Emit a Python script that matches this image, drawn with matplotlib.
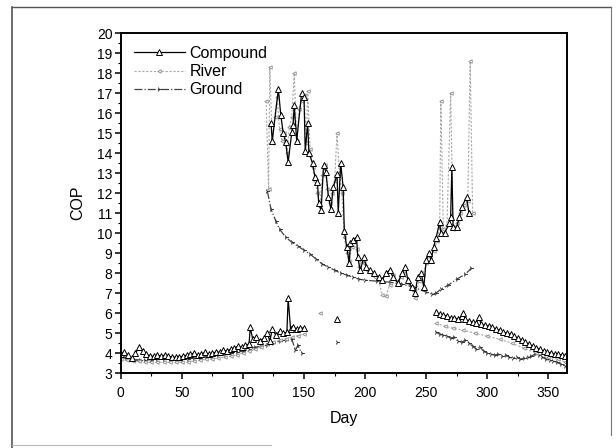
import numpy as np
import matplotlib
matplotlib.use("Agg")
import matplotlib.pyplot as plt
from matplotlib.lines import Line2D
from matplotlib.ticker import MultipleLocator

plt.rcParams['font.family'] = ['Liberation Sans', 'DejaVu Sans']

nan = np.nan

# ---- heating season, part 1 (days 0-150) + a few stray points ----
comp_heat1_days = [0, 3, 6, 9, 12, 15, 18, 21, 24, 27, 30, 33, 36, 39, 42, 45, 48, 51, 54, 57,
                   60, 63, 66, 69, 72, 75, 78, 81, 84, 87, 90, 93, 96, 99, 102, 105, 106, 108,
                   111, 114, 117, 120, 122, 124, 127, 130, 133, 136, 137, 139, 141, 144, 147, 150,
                   151, 177]
comp_heat1 = [3.95, 4.05, 3.9, 3.75, 4.0, 4.3, 4.1, 3.95, 3.85, 3.85, 3.9, 3.85, 3.9, 3.85, 3.8,
              3.8, 3.8, 3.85, 3.9, 3.95, 4.0, 3.9, 3.95, 4.05, 3.95, 4.0, 4.05, 4.05, 4.15, 4.1,
              4.2, 4.25, 4.35, 4.3, 4.4, 4.45, 5.3, 4.7, 4.8, 4.6, 4.75, 5.0, 4.6, 5.2, 4.9, 5.1,
              5.0, 5.05, 6.75, 5.2, 5.3, 5.2, 5.25, 5.25, nan, 5.7]

river_heat1_days = [0, 5, 10, 15, 20, 25, 30, 35, 40, 45, 50, 55, 60, 65, 70, 75, 80, 85, 90,
                    95, 100, 105, 110, 115, 120, 125, 130, 135, 140, 145, 150, 151, 163]
river_heat1 = [3.7, 3.65, 3.6, 3.6, 3.55, 3.55, 3.55, 3.55, 3.55, 3.55, 3.55, 3.58, 3.6, 3.65,
               3.7, 3.72, 3.75, 3.8, 3.85, 3.92, 4.0, 4.1, 4.2, 4.32, 4.45, 4.55, 4.65, 4.72,
               4.8, 4.88, 4.95, nan, 6.0]

ground_heat1_days = [0, 4, 8, 12, 16, 20, 25, 30, 35, 40, 45, 50, 55, 60, 65, 70, 75, 80, 85,
                     90, 95, 100, 105, 110, 115, 120, 125, 130, 135, 140, 143, 145, 148, 149, 177]
ground_heat1 = [3.8, 3.75, 3.7, 3.68, 3.66, 3.65, 3.68, 3.7, 3.7, 3.7, 3.7, 3.7, 3.72, 3.75,
                3.78, 3.8, 3.85, 3.9, 3.95, 4.0, 4.05, 4.1, 4.2, 4.3, 4.35, 4.4, 4.5, 4.6, 4.65,
                4.7, 4.15, 4.4, 4.0, nan, 4.55]

# ---- heating season, part 2 (days 258-364) ----
comp_heat2_days = [258, 261, 264, 267, 270, 273, 276, 279, 280, 282, 285, 288, 291, 293, 295,
                   298, 301, 304, 307, 310, 313, 316, 319, 322, 325, 328, 331, 334, 337, 340,
                   343, 346, 349, 352, 355, 358, 361, 364]
comp_heat2 = [6.05, 5.95, 5.9, 5.85, 5.75, 5.75, 5.7, 5.85, 6.0, 5.7, 5.6, 5.55, 5.5, 5.8, 5.45,
              5.4, 5.35, 5.3, 5.2, 5.15, 5.05, 5.0, 4.95, 4.85, 4.75, 4.65, 4.55, 4.45, 4.35,
              4.25, 4.2, 4.1, 4.05, 4.0, 3.95, 3.95, 3.9, 3.85]

river_heat2_days = [258, 265, 272, 280, 290, 300, 310, 320, 330, 340, 350, 358, 364]
river_heat2 = [5.5, 5.35, 5.25, 5.15, 5.0, 4.85, 4.7, 4.5, 4.25, 4.0, 3.8, 3.7, 3.55]

ground_heat2_days = [258, 261, 264, 267, 270, 273, 276, 279, 282, 285, 288, 291, 294, 297, 300,
                     303, 306, 309, 312, 315, 318, 321, 324, 327, 330, 333, 336, 339, 342, 345,
                     348, 351, 354, 357, 360, 364]
ground_heat2 = [5.05, 4.95, 4.9, 4.85, 4.75, 4.8, 4.6, 4.55, 4.65, 4.5, 4.35, 4.2, 4.3, 4.1,
                4.0, 3.95, 3.9, 3.95, 3.85, 3.9, 3.8, 3.75, 3.8, 3.7, 3.75, 3.8, 3.85, 3.95,
                3.9, 3.8, 3.7, 3.65, 3.6, 3.55, 3.45, 3.35]

# ---- cooling season (days ~120-290) ----
comp_cool_days = [123, 124, 129, 131, 133, 135, 137, 140, 141, 142, 144, 148, 150, 151, 153,
                  154, 157, 159, 161, 162, 164, 166, 168, 170, 172, 174, 177, 178, 180, 182,
                  183, 185, 187, 188, 190, 193, 194, 196, 199, 201, 204, 207, 211, 214, 217,
                  220, 223, 227, 230, 233, 235, 238, 241, 243, 246, 248, 250, 252, 254, 256,
                  258, 261, 262, 265, 269, 270, 271, 272, 275, 277, 279, 283, 285]
comp_cool = [15.5, 14.6, 17.2, 15.9, 15.0, 14.55, 13.55, 15.05, 15.4, 16.4, 14.6, 17.0, 16.8,
             14.1, 15.5, 14.0, 13.5, 12.8, 12.55, 11.5, 11.15, 13.4, 13.05, 11.8, 11.2, 12.3,
             12.95, 11.0, 13.5, 12.3, 10.1, 9.3, 8.5, 9.5, 9.65, 9.8, 8.8, 8.15, 8.8, 8.3, 8.15,
             8.0, 7.8, 7.65, 8.0, 8.15, 7.8, 7.5, 8.0, 8.3, 7.65, 7.3, 7.0, 7.8, 8.0, 7.3, 8.65,
             9.0, 8.65, 9.3, 9.75, 10.55, 10.0, 10.0, 10.5, 10.8, 13.3, 10.3, 10.3, 10.8, 11.3,
             11.8, 11.0]

river_cool_days = [119, 121, 122, 124, 126, 128, 130, 132, 134, 136, 138, 140, 142, 144, 146,
                   148, 150, 152, 153, 155, 157, 159, 161, 163, 165, 167, 169, 171, 173, 175,
                   177, 179, 181, 183, 185, 187, 189, 191, 193, 195, 197, 199, 202, 205, 208,
                   211, 214, 217, 220, 223, 226, 229, 232, 235, 238, 241, 244, 247, 250, 253,
                   256, 259, 261, 262, 264, 267, 270, 272, 275, 278, 281, 284, 286, 288]
river_cool = [16.6, 12.2, 18.3, 14.5, 15.8, 16.8, 15.2, 14.6, 15.0, 14.0, 15.3, 15.8, 18.0,
              14.6, 16.2, 16.6, 16.9, 14.5, 17.1, 14.2, 13.3, 12.6, 12.0, 11.3, 12.9, 13.4, 12.2,
              11.5, 12.0, 12.6, 15.0, 13.0, 12.0, 9.8, 9.0, 8.6, 9.3, 9.6, 9.2, 8.3, 8.6, 8.5,
              8.1, 8.0, 7.8, 7.7, 6.9, 6.85, 7.4, 7.9, 7.6, 7.8, 8.1, 7.5, 7.2, 6.75, 7.6, 7.9,
              8.5, 8.9, 9.1, 9.6, 10.3, 16.6, 10.2, 10.4, 17.0, 10.2, 10.5, 11.0, 11.4, 11.6,
              18.6, 11.0]

ground_cool_days = [120, 123, 127, 130, 135, 140, 145, 150, 155, 160, 165, 170, 175, 180, 185,
                    190, 195, 200, 210, 220, 230, 240, 250, 255, 258, 262, 268, 275, 282, 287]
ground_cool = [12.1, 11.2, 10.6, 10.2, 9.8, 9.55, 9.35, 9.15, 8.95, 8.7, 8.45, 8.3, 8.15, 8.0,
               7.9, 7.8, 7.7, 7.65, 7.6, 7.55, 7.45, 7.3, 7.05, 6.95, 7.0, 7.2, 7.4, 7.7, 7.95,
               8.25]

fig = plt.figure(figsize=(6.16, 4.48), dpi=100)
ax = fig.add_axes([0.196, 0.167, 0.724, 0.759])

comp_style = dict(color='black', lw=0.9, marker='^', ms=4, mfc='white', mec='black', mew=0.7)
river_style = dict(color='#a8a8a8', lw=0.8, ls=(0, (2, 1.5)), marker='<', ms=2.5,
                   mfc='white', mec='#8a8a8a', mew=0.6)
ground_style = dict(color='#444444', lw=0.9, ls='-.', marker='4', ms=3.5, mec='#333333', mew=0.7)

# draw ground & river first, compound on top
ax.plot(ground_heat1_days, ground_heat1, **ground_style)
ax.plot(ground_heat2_days, ground_heat2, **ground_style)
ax.plot(ground_cool_days, ground_cool, **ground_style)
ax.plot(river_heat1_days, river_heat1, **river_style)
ax.plot(river_heat2_days, river_heat2, **river_style)
ax.plot(river_cool_days, river_cool, **river_style)
ax.plot(comp_heat1_days, comp_heat1, **comp_style)
ax.plot(comp_heat2_days, comp_heat2, **comp_style)
ax.plot(comp_cool_days, comp_cool, **comp_style)

handles = [Line2D([], [], label='Compound', **comp_style),
           Line2D([], [], label='River', **river_style),
           Line2D([], [], label='Ground', **ground_style)]
ax.legend(handles=handles, loc='upper left', frameon=False, fontsize=11.5,
          handlelength=3.2, handletextpad=0.3, labelspacing=0.2,
          borderaxespad=0.4, markerfirst=True)

ax.set_xlim(0, 365)
ax.set_ylim(3, 20)
ax.xaxis.set_major_locator(MultipleLocator(50))
ax.xaxis.set_minor_locator(MultipleLocator(25))
ax.yaxis.set_major_locator(MultipleLocator(1))
ax.yaxis.set_minor_locator(MultipleLocator(0.5))
ax.tick_params(which='major', direction='out', length=4, width=1.1, labelsize=10)
ax.tick_params(axis='x', which='major', pad=5)
ax.tick_params(axis='y', which='major', pad=2)
ax.tick_params(which='minor', direction='out', length=2, width=0.8)
for s in ax.spines.values():
    s.set_linewidth(1.4)
ax.set_xlabel('Day', fontsize=11.5, labelpad=8)
ax.set_ylabel('COP', fontsize=11.5, labelpad=8)

# scanned page frame
fig.add_artist(Line2D([0.0195, 0.0195], [0.0, 0.984], transform=fig.transFigure, color='#555555', lw=1.2))
fig.add_artist(Line2D([0.0195, 0.992], [0.984, 0.984], transform=fig.transFigure, color='#555555', lw=1.0))
fig.add_artist(Line2D([0.992, 0.992], [0.03, 0.984], transform=fig.transFigure, color='#777777', lw=0.8))
fig.add_artist(Line2D([0.0195, 0.44], [0.006, 0.006], transform=fig.transFigure, color='#bbbbbb', lw=0.8))

fig.savefig('out.png', dpi=100)
